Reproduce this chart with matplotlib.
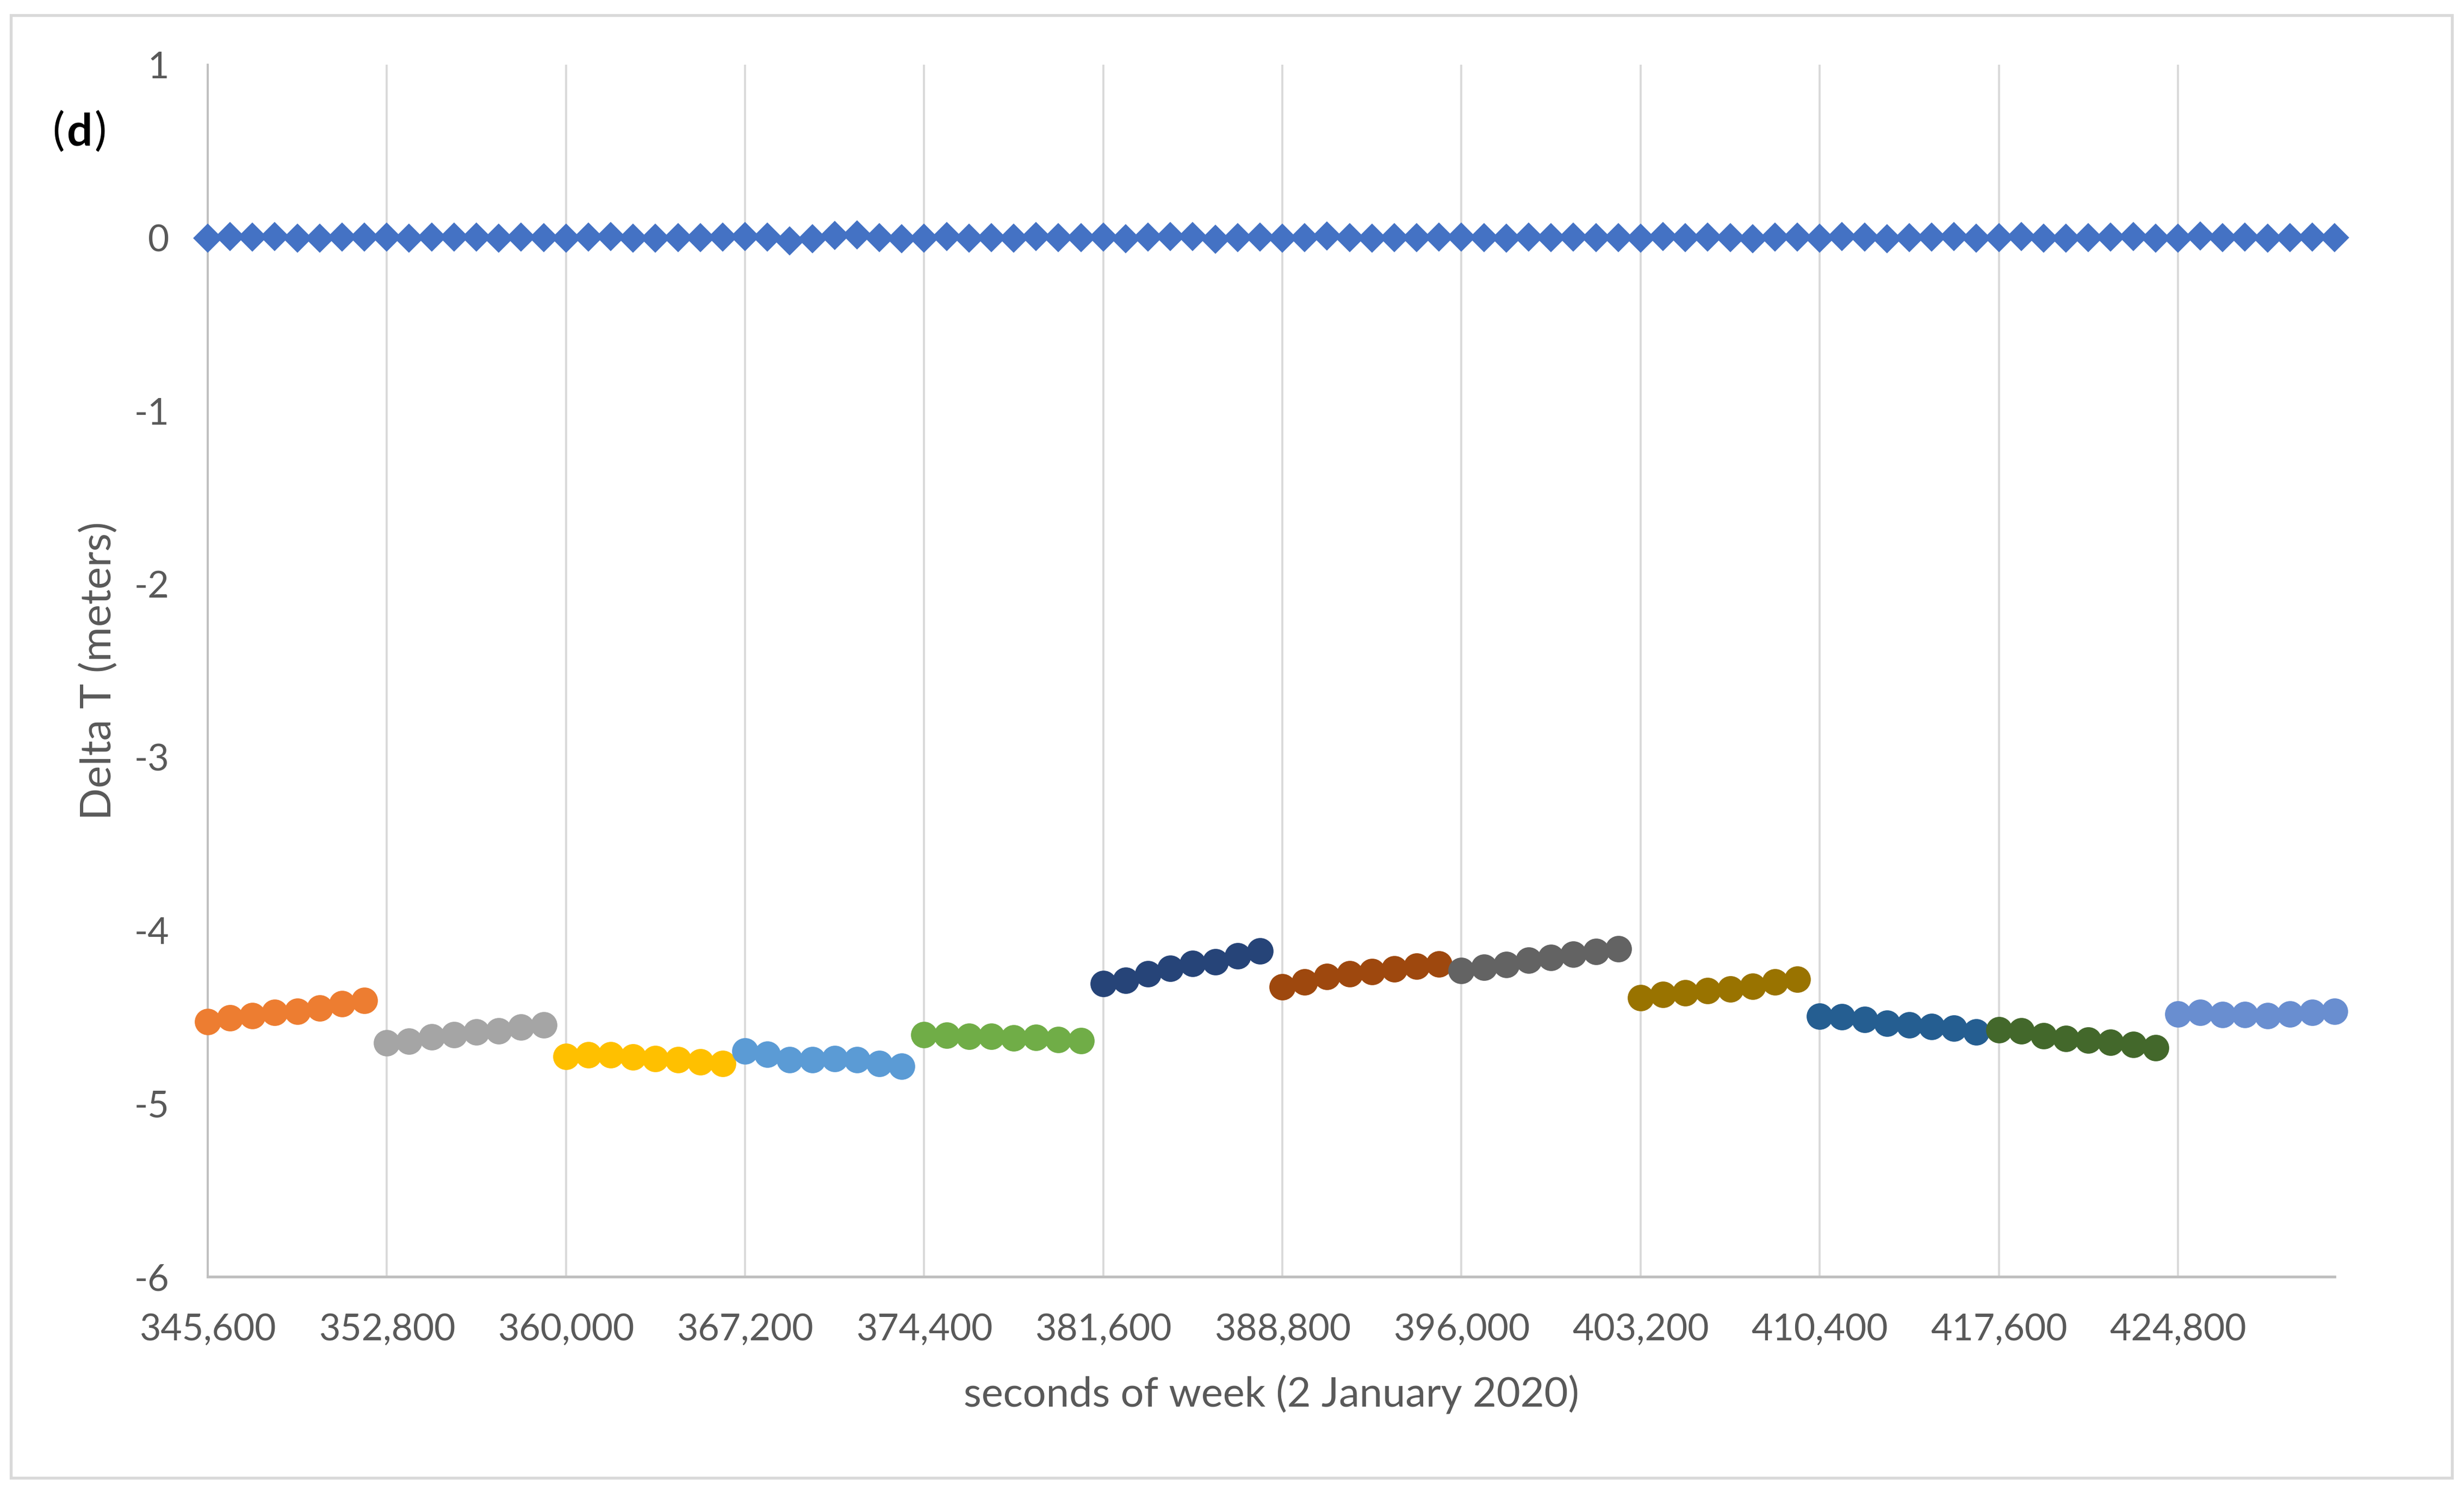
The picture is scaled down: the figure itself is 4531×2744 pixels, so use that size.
import numpy as np
import matplotlib.pyplot as plt
from matplotlib.patches import Rectangle

plt.rcParams['font.family'] = ['Lato', 'DejaVu Sans']
plt.rcParams['axes.unicode_minus'] = False

# seconds of week, one epoch every 900 s
seconds = np.arange(345600, 431101, 900)

# Delta T of the reference solution (diamonds)
delta_ref = [
    -0.002, 0.007, 0.004, 0.007, -0.002, -0.001, 0.004, 0.004,
    0.004, -0.001, 0.004, 0.004, 0.004, -0.001, 0.004, 0.001,
    -0.001, 0.004, 0.007, -0.001, -0.002, 0.001, 0.001, 0.004,
    0.009, 0.004, -0.018, -0.004, 0.014, 0.017, 0.002, -0.004,
    0.000, 0.007, -0.001, 0.002, -0.001, 0.007, 0.001, 0.002,
    0.004, -0.004, 0.004, 0.007, 0.007, -0.007, 0.001, 0.004,
    -0.002, 0.001, 0.010, 0.002, -0.001, 0.002, 0.002, 0.004,
    0.004, 0.002, -0.001, 0.004, 0.002, 0.004, 0.002, 0.002,
    -0.002, 0.007, 0.001, 0.004, 0.001, -0.005, 0.004, 0.004,
    -0.002, 0.007, 0.004, -0.005, 0.001, 0.004, 0.007, -0.001,
    0.001, 0.007, -0.001, -0.001, 0.001, 0.004, 0.007, -0.001,
    -0.002, 0.010, 0.002, 0.004, -0.001, 0.001, 0.004, 0.001,
]

# Delta T per 2-hour block (circles), 8 epochs per block
delta_blocks = [
    -4.527, -4.506, -4.494, -4.475, -4.468, -4.450, -4.424, -4.403,
    -4.650, -4.639, -4.616, -4.603, -4.586, -4.579, -4.557, -4.546,
    -4.729, -4.720, -4.717, -4.730, -4.739, -4.746, -4.758, -4.770,
    -4.698, -4.714, -4.748, -4.748, -4.739, -4.746, -4.770, -4.783,
    -4.603, -4.604, -4.613, -4.613, -4.622, -4.617, -4.632, -4.638,
    -4.307, -4.287, -4.252, -4.218, -4.192, -4.183, -4.148, -4.120,
    -4.325, -4.297, -4.266, -4.252, -4.239, -4.221, -4.208, -4.193,
    -4.233, -4.214, -4.197, -4.172, -4.156, -4.136, -4.123, -4.105,
    -4.389, -4.370, -4.362, -4.348, -4.337, -4.324, -4.299, -4.281,
    -4.497, -4.500, -4.515, -4.537, -4.546, -4.555, -4.565, -4.586,
    -4.573, -4.581, -4.608, -4.623, -4.635, -4.646, -4.658, -4.679,
    -4.483, -4.475, -4.486, -4.486, -4.491, -4.483, -4.473, -4.468,
]

block_colors = ['#ED7D31', '#A5A5A5', '#FFC000', '#5B9BD5', '#70AD47', '#264478',
                '#9E480E', '#636363', '#997300', '#255E91', '#43682B', '#698ED0']

x_ticks = np.arange(345600, 431100, 7200)
y_ticks = np.arange(-6, 2, 1)

fig = plt.figure(figsize=(4531 / 300, 2744 / 300), dpi=300)
ax = fig.add_axes([0.0843, 0.1443, 0.9475 - 0.0843, 0.9566 - 0.1443])

# outer chart border
fig.patches.append(Rectangle((20 / 4531, 1 - 2718 / 2744), 4489 / 4531, 2690 / 2744,
                             transform=fig.transFigure, fill=False,
                             edgecolor='#D9D9D9', linewidth=1.3))

ax.plot(seconds, delta_ref, linestyle='none', marker='D', markersize=8,
        color='#4472C4', clip_on=False, zorder=3)

for i, c in enumerate(block_colors):
    sl = slice(i * 8, i * 8 + 8)
    ax.plot(seconds[sl], delta_blocks[sl], linestyle='none', marker='o',
            markersize=11.2, color=c, markeredgewidth=0.5, clip_on=False, zorder=3)

ax.set_xlim(345600, 431100)
ax.set_ylim(-6, 1)
ax.set_xticks(x_ticks)
ax.set_xticklabels([f'{v:,}' for v in x_ticks])
ax.set_yticks(y_ticks)
ax.set_yticklabels([str(v) for v in y_ticks])
ax.tick_params(length=0, labelsize=16.3, labelcolor='#595959')
ax.tick_params(axis='x', pad=16)
ax.tick_params(axis='y', pad=17)

ax.set_axisbelow(True)
ax.grid(axis='x', color='#D9D9D9', linewidth=0.9)
for s in ['top', 'right']:
    ax.spines[s].set_visible(False)
ax.spines['left'].set_color('#BFBFBF')
ax.spines['left'].set_linewidth(0.9)
ax.spines['bottom'].set_color('#BFBFBF')
ax.spines['bottom'].set_linewidth(1.2)

ax.set_xlabel('seconds of week (2 January 2020)', fontsize=18.2, color='#595959', va='center')
ax.xaxis.set_label_coords(0.5, -0.0974)
ax.set_ylabel('Delta T (meters)', fontsize=18.7, color='#595959', va='center')
ax.yaxis.set_label_coords(-0.0511, 0.5)

# panel tag "(d)" with only the letter in bold
base_y = 1 - 268 / 2744
fig.text(107 / 4531, base_y, '(', fontsize=20, color='black', ha='center', va='baseline')
fig.text(146 / 4531, base_y, 'd', fontsize=20, fontweight='bold', color='black',
         ha='center', va='baseline')
fig.text(185 / 4531, base_y, ')', fontsize=20, color='black', ha='center', va='baseline')

plt.savefig('out.png', dpi=300)
